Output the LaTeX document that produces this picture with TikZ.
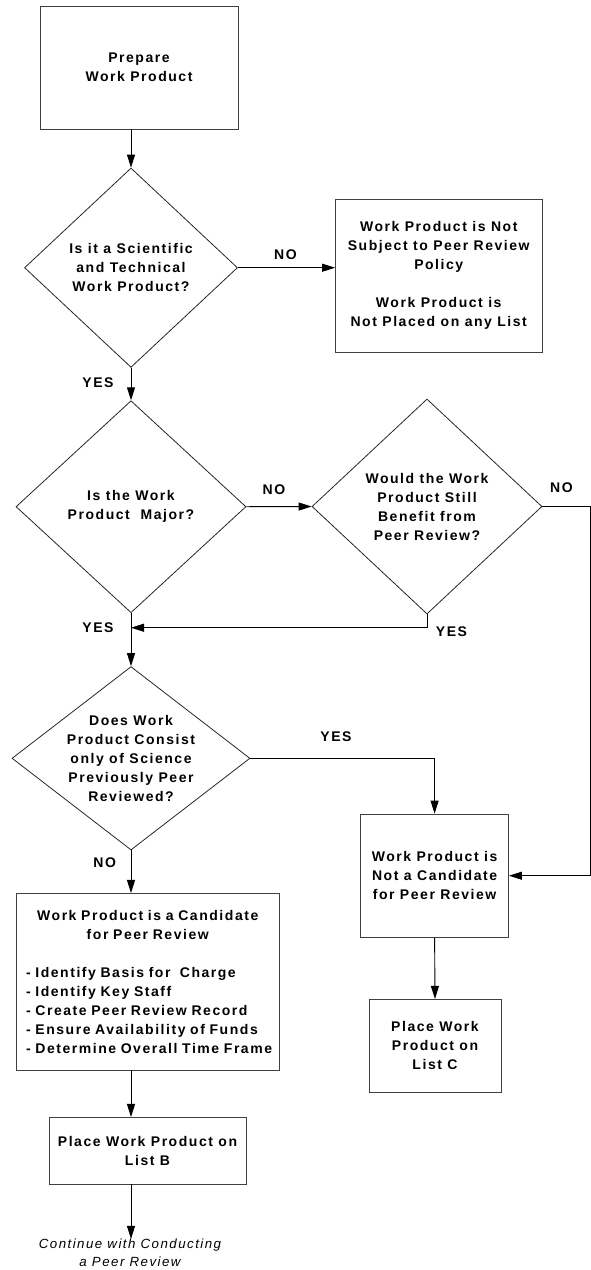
\documentclass[tikz,border=0pt]{standalone}
\usepackage{fontspec}
\setmainfont{Liberation Sans}[LetterSpace=11]
\usetikzlibrary{arrows.meta,shapes.geometric,calc}

\begin{document}
\begin{tikzpicture}[x=1pt, y=-1pt,
    every node/.style={font=\fontsize{14}{19}\selectfont\bfseries},
    procbox/.style={draw=black!75, line width=0.8pt, inner sep=0pt, align=center},
    decision/.style={draw=black!85, line width=0.8pt, diamond, inner sep=-15pt, align=center},
    answer/.style={inner sep=0pt},
    flow/.style={line width=0.9pt, -{Triangle[length=13pt,width=8pt]}}]
    \useasboundingbox (0,0) rectangle (591,1270);
    % left column
    \node[procbox, minimum width=198pt, minimum height=123pt] (prep) at (139,67.5) {Prepare\\Work Product};
    \node[decision, minimum width=213pt, minimum height=199.4pt] (dsci) at (131,267.7) {Is it a Scientific\\and Technical\\Work Product?};
    \node[decision, minimum width=230pt, minimum height=212pt] (dmaj) at (131,506.7) {Is the Work\\Product\ \ Major?};
    \node[decision, minimum width=238pt, minimum height=183.4pt] (dprev) at (131,758.3) {Does Work\\Product Consist\\only of Science\\Previously Peer\\Reviewed?};
    \node[procbox, text width=255pt, inner xsep=4pt, minimum height=176.7pt, align=left] (cand) at (147.75,981.7)
        {{\centering Work Product is a Candidate\\for Peer Review\par}\vspace{19pt}\leftskip=5.8pt
        - Identify Basis for\ \ Charge\\- Identify Key Staff\\- Create Peer Review Record\\- Ensure Availability of Funds\\- Determine Overall Time Frame\par};
    \node[procbox, minimum width=197pt, minimum height=66.7pt] (listb) at (147.5,1150.7) {Place Work Product on\\List B};
    \node[font=\fontsize{13.3}{18}\selectfont\itshape, align=center, inner sep=0pt] (cont) at (130,1253) {Continue with Conducting\\a Peer Review};
    % right column
    \node[procbox, minimum width=206.5pt, minimum height=153.7pt] (nosub) at (438.75,275.85) {Work Product is Not\\Subject to Peer Review\\Policy\\[19pt]Work Product is\\Not Placed on any List};
    \node[decision, minimum width=230pt, minimum height=215pt] (dben) at (427,506.5) {Would the Work\\Product Still\\Benefit from\\Peer Review?};
    \node[procbox, minimum width=147.8pt, minimum height=123.3pt] (nocand) at (434.6,875.7) {Work Product is\\Not a Candidate\\for Peer Review};
    \node[procbox, minimum width=132pt, minimum height=92.7pt] (listc) at (435,1045.7) {Place Work\\Product on\\List C};
    % answers
    \node[answer] (no1) at (285.5,254.3) {NO};
    \node[answer] (yes1) at (98,382.7) {YES};
    \node[answer] (no2) at (274,489.3) {NO};
    \node[answer] (no3) at (561.5,487.7) {NO};
    \node[answer] (yes2) at (98,628) {YES};
    \node[answer] (yes3) at (451.5,631.5) {YES};
    \node[answer] (yes4) at (336,736.7) {YES};
    \node[answer] (no4) at (104.75,862.7) {NO};
    % connectors
    \coordinate (rtop) at (590,506.5);
    \coordinate (yesjoin) at (131,627.7);
    \draw[flow] (prep.south -| dsci.north) -- (dsci.north);
    \draw[flow] (dsci.east) -- (dsci.east -| nosub.west);
    \draw[flow] (dsci.south) -- (dmaj.north);
    \draw[flow] (dmaj.east) -- (dben.west);
    \draw[flow] (dben.east) -- (rtop) |- (nocand.east);
    \draw[flow] (dben.south) -- (dben.south |- yesjoin) -- (yesjoin);
    \draw[flow] (dmaj.south) -- (dprev.north);
    \draw[flow] (dprev.east) -| (nocand.north);
    \draw[flow] (dprev.south) -- (dprev.south |- cand.north);
    \draw[flow] (nocand.south) -- (listc.north);
    \draw[flow] (cand.south -| dprev.south) -- (listb.north -| dprev.south);
    \draw[flow] (listb.south -| dprev.south) -- (cont.north -| dprev.south);
\end{tikzpicture}
\end{document}
